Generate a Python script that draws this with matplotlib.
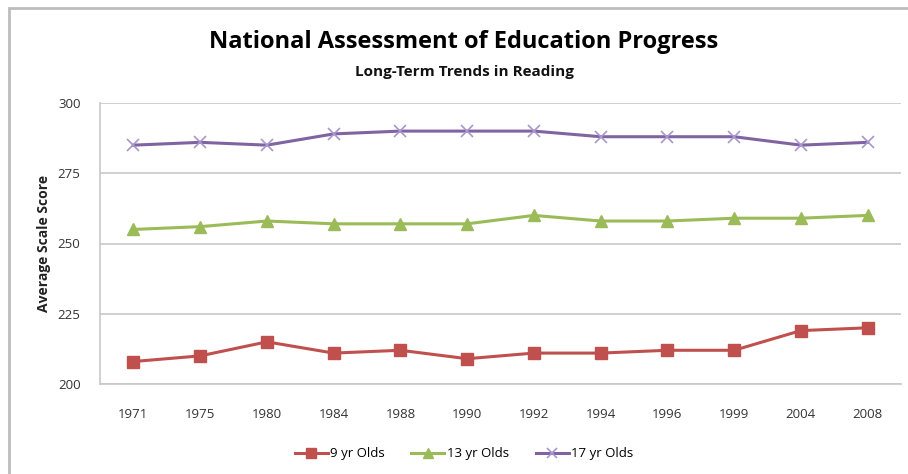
import matplotlib.pyplot as plt
from matplotlib.patches import Rectangle

# data
years = ['1971', '1975', '1980', '1984', '1988', '1990', '1992',
         '1994', '1996', '1999', '2004', '2008']
age9 = [208, 210, 215, 211, 212, 209, 211, 211, 212, 212, 219, 220]
age13 = [255, 256, 258, 257, 257, 257, 260, 258, 258, 259, 259, 260]
age17 = [285, 286, 285, 289, 290, 290, 290, 288, 288, 288, 285, 286]
series_names = ['9 yr Olds', '13 yr Olds', '17 yr Olds']

plt.rcParams['font.family'] = ['Open Sans', 'DejaVu Sans']

fig = plt.figure(figsize=(9.08, 4.74), dpi=100)
W, H = 908, 474
ax = fig.add_axes([100 / W, 1 - 384 / H, 801 / W, 281 / H])

x = range(len(years))
ax.plot(x, age9, color='#C0504D', lw=2.2, marker='s', ms=9,
        label=series_names[0])
ax.plot(x, age13, color='#9BBB59', lw=2.2, marker='^', ms=9,
        label=series_names[1])
ax.plot(x, age17, color='#8064A2', lw=2.2, marker='x', ms=9,
        mec='#A797CC', mew=1.2, label=series_names[2])

ax.set_xlim(-0.5, len(years) - 0.5)
ax.set_ylim(200, 300)
ax.set_yticks([200, 225, 250, 275, 300])
ax.set_xticks(list(x))
ax.set_xticklabels(years)
ax.tick_params(length=0, labelsize=9.5, colors='#333333')
ax.tick_params(axis='x', pad=17)
ax.tick_params(axis='y', pad=14)
ax.grid(axis='y', color='#C8C8C8', lw=1.2)
ax.set_axisbelow(True)
for s in ['top', 'right']:
    ax.spines[s].set_visible(False)
ax.spines['left'].set_color('#C8C8C8')
ax.spines['bottom'].set_color('#C8C8C8')
ax.spines['left'].set_linewidth(1.2)
ax.spines['bottom'].set_linewidth(1.2)

ax.set_ylabel('Average Scale Score', fontsize=10, fontweight='bold',
              color='#222222', labelpad=5)

fig.text(464 / W, 1 - 42 / H, 'National Assessment of Education Progress',
         ha='center', va='center', fontsize=17, fontweight='bold')
fig.text(464 / W, 1 - 72 / H, 'Long-Term Trends in Reading',
         ha='center', va='center', fontsize=11, fontweight='bold',
         color='#111111')

fig.legend(loc='center', bbox_to_anchor=(464 / W, 1 - 454 / H), ncol=3,
           frameon=False, fontsize=9.5, handlelength=2.5, handletextpad=0.2,
           columnspacing=2, markerscale=0.8)

# outer chart border
fig.patches.append(Rectangle((9 / W, -0.05), 1.2, 1 - 8 / H + 0.05,
                             transform=fig.transFigure, fill=False,
                             edgecolor='#BDBDBD', lw=2))

fig.savefig('out.png', dpi=100)
